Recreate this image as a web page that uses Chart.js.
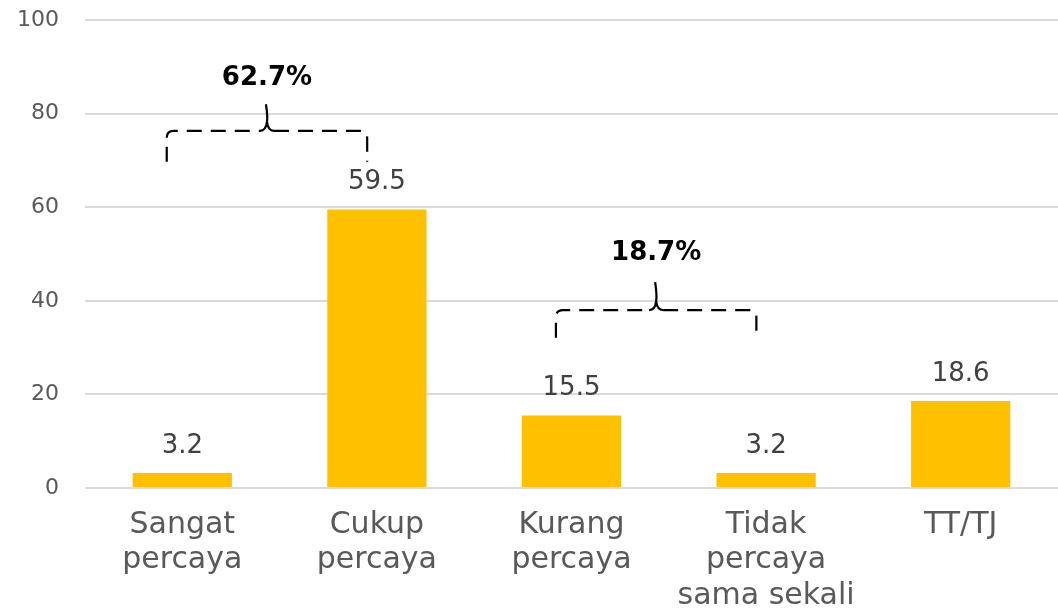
<!DOCTYPE html>
<html>
<head>
<meta charset="utf-8">
<script src="https://cdn.jsdelivr.net/npm/chart.js@4"></script>
<style>
  html, body { margin: 0; padding: 0; background: #fff; }
  #wrap { width: 1058px; height: 610px; }
</style>
</head>
<body>
<div id="wrap"><canvas id="trustChart"></canvas></div>
<script>
  // data
  var categories = [['Sangat', 'percaya'], ['Cukup', 'percaya'], ['Kurang', 'percaya'], ['Tidak', 'percaya', 'sama sekali'], ['TT/TJ']];
  var values = [3.2, 59.5, 15.5, 3.2, 18.6];
  var yTicks = [0, 20, 40, 60, 80, 100];

  // grouped totals shown above the dashed brackets
  var groupFrom = [0, 2];
  var groupTo = [1, 3];
  var groupLabels = ['62.7%', '18.7%'];

  var FONT = "'DejaVu Sans', sans-serif";

  // value labels above bars
  var barLabels = {
    id: 'barLabels',
    afterDatasetsDraw: function (chart) {
      var ctx = chart.ctx;
      var meta = chart.getDatasetMeta(0);
      ctx.save();
      ctx.font = '26px ' + FONT;
      ctx.fillStyle = '#404040';
      ctx.textAlign = 'center';
      ctx.textBaseline = 'middle';
      meta.data.forEach(function (bar, i) {
        ctx.fillText(values[i].toFixed(1), bar.x, bar.y - 27);
      });
      ctx.restore();
    }
  };

  // dashed brackets with curly knot in the middle
  var brackets = {
    id: 'brackets',
    afterDraw: function (chart, args, opts) {
      var ctx = chart.ctx;
      var x = chart.scales.x, y = chart.scales.y;
      var step = x.getPixelForValue(1) - x.getPixelForValue(0);
      ctx.save();
      for (var i = 0; i < groupFrom.length; i++) {
        var lv = opts.levels[i];
        var x0 = x.getPixelForValue(groupFrom[i]) + opts.startShift * step;
        var x1 = x.getPixelForValue(groupTo[i]) + opts.endShift * step;
        var xc = (x0 + x1) / 2;
        var yl = y.getPixelForValue(lv.line);
        var yb = y.getPixelForValue(lv.stub);
        var yt = y.getPixelForValue(lv.knot);
        var r = 7;

        ctx.strokeStyle = '#000';
        ctx.lineWidth = 2.2;
        ctx.setLineDash([15, 9]);
        ctx.beginPath();
        ctx.moveTo(x0, yb);
        ctx.lineTo(x0, yl + r);
        ctx.quadraticCurveTo(x0, yl, x0 + r, yl);
        ctx.lineTo(xc - r, yl);
        ctx.stroke();
        ctx.beginPath();
        ctx.moveTo(xc + r, yl);
        ctx.lineTo(x1 - r, yl);
        ctx.quadraticCurveTo(x1, yl, x1, yl + r);
        ctx.lineTo(x1, yb);
        ctx.stroke();

        // knot
        ctx.setLineDash([]);
        ctx.beginPath();
        ctx.moveTo(xc - r, yl);
        ctx.quadraticCurveTo(xc - 1, yl, xc, yl - r - 2);
        ctx.quadraticCurveTo(xc + 1, yl, xc + r, yl);
        ctx.moveTo(xc, yl - r - 2);
        ctx.quadraticCurveTo(xc + 1, (yl + yt) / 2, xc - 1, yt);
        ctx.stroke();

        ctx.font = 'bold 26px ' + FONT;
        ctx.fillStyle = '#000';
        ctx.textAlign = 'center';
        ctx.textBaseline = 'middle';
        ctx.fillText(groupLabels[i], xc, y.getPixelForValue(lv.text));
      }
      ctx.restore();
    }
  };

  var ctx1 = document.getElementById('trustChart').getContext('2d');
  var trustChart = new Chart(ctx1, {
    type: 'bar',
    data: {
      labels: categories,
      datasets: [{
        data: values,
        backgroundColor: '#FFC000',
        barPercentage: 0.51,
        categoryPercentage: 1
      }]
    },
    options: {
      responsive: true,
      maintainAspectRatio: false,
      animation: false,
      layout: { padding: { top: 20, right: 0, bottom: 0, left: 0 } },
      plugins: {
        legend: { display: false },
        tooltip: { enabled: false },
        brackets: {
          startShift: -0.08,
          endShift: -0.05,
          levels: [
            { line: 76.3, stub: 69.7, knot: 82.0, text: 87.6 },
            { line: 38.0, stub: 32.1, knot: 44.0, text: 50.2 }
          ]
        }
      },
      scales: {
        x: {
          grid: { display: false, drawTicks: false },
          border: { display: false },
          ticks: {
            color: '#595959',
            padding: 20,
            maxRotation: 0,
            autoSkip: false,
            font: { family: FONT, size: 30, lineHeight: 1.17 }
          },
          afterFit: function (scale) {
            scale.height = 122;
            scale.paddingTop = 0;
            scale.paddingBottom = 0;
          }
        },
        y: {
          min: 0,
          max: 100,
          afterBuildTicks: function (scale) {
            scale.ticks = yTicks.map(function (v) { return { value: v }; });
          },
          grid: { color: '#d9d9d9', lineWidth: 2, drawTicks: false },
          border: { display: false },
          ticks: {
            color: '#595959',
            padding: 26,
            font: { family: FONT, size: 22 }
          },
          afterFit: function (scale) {
            scale.width = 85;
            scale.paddingTop = 0;
            scale.paddingBottom = 0;
          }
        }
      }
    },
    plugins: [barLabels, brackets]
  });
</script>
</body>
</html>
